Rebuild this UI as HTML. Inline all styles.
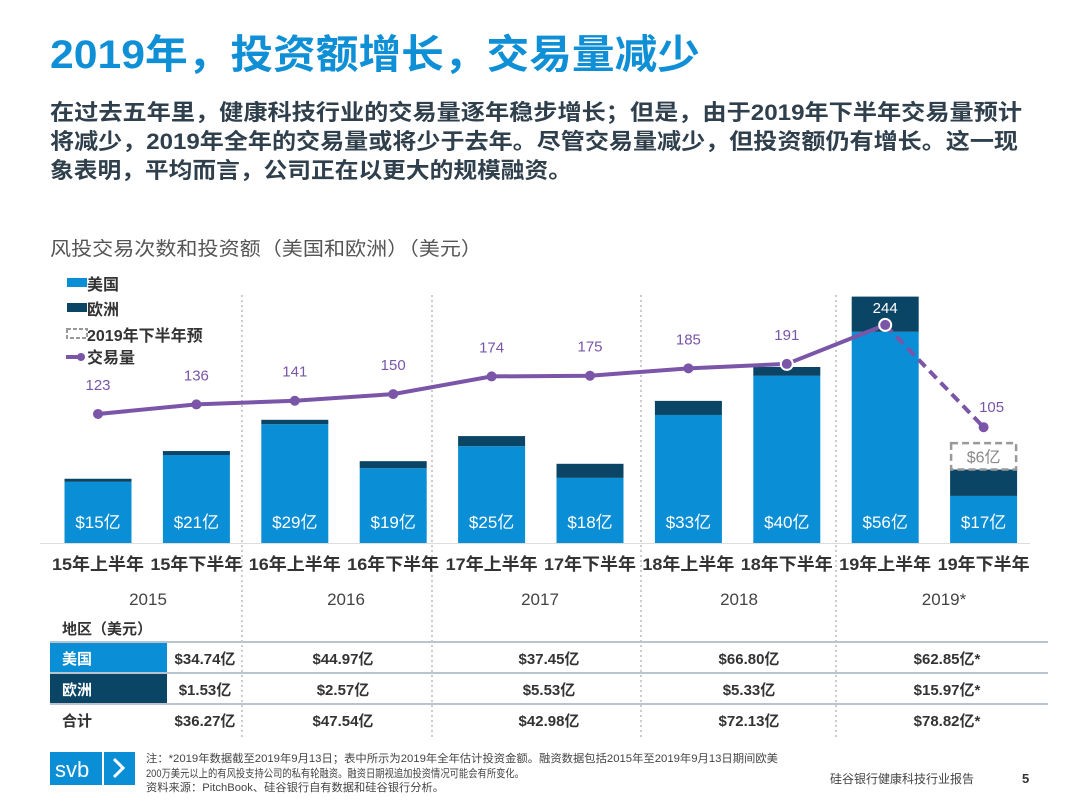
<!DOCTYPE html>
<html><head><meta charset="utf-8"><style>
body{margin:0;background:#fff;}
svg{display:block;font-family:"Liberation Sans","Noto Sans CJK SC",sans-serif;}
</style></head><body>
<svg id="c" width="1080" height="808" viewBox="0 0 1080 808">
<text x="50" y="68" font-size="40" font-weight="bold" fill="#0f8fd6" textLength="650" lengthAdjust="spacingAndGlyphs">2019年，投资额增长，交易量减少</text>
<g font-size="22" font-weight="bold" fill="#2f3f4c">
<text x="50" y="120" textLength="972" lengthAdjust="spacingAndGlyphs">在过去五年里，健康科技行业的交易量逐年稳步增长；但是，由于2019年下半年交易量预计</text>
<text x="50" y="149" textLength="968" lengthAdjust="spacingAndGlyphs">将减少，2019年全年的交易量或将少于去年。尽管交易量减少，但投资额仍有增长。这一现</text>
<text x="50" y="178" textLength="522" lengthAdjust="spacingAndGlyphs">象表明，平均而言，公司正在以更大的规模融资。</text>
</g>
<text x="50" y="255" font-size="19" fill="#555" textLength="432" lengthAdjust="spacingAndGlyphs">风投交易次数和投资额（美国和欧洲）（美元）</text>
<g id="seps"></g>
<g id="bars"></g>
<g id="line"></g>
<g id="labels"></g>
<g font-size="16" font-weight="bold" fill="#333">
<rect x="67" y="278" width="20" height="9" fill="#0a8fd6"/><text x="87" y="290">美国</text>
<rect x="67" y="303" width="20" height="9" fill="#0b4566"/><text x="87" y="315">欧洲</text>
<rect x="67" y="329" width="20" height="9" fill="none" stroke="#999" stroke-dasharray="4,2" stroke-width="2"/><text x="87" y="341">2019年下半年预</text>
<line x1="66" y1="357" x2="80" y2="357" stroke="#7a55a8" stroke-width="4"/><circle cx="81" cy="357" r="4" fill="#7a55a8"/><text x="87" y="363">交易量</text>
</g>
<g id="table"></g>
<g>
<rect x="50" y="752" width="52" height="33" fill="#0a8fd6"/>
<text x="55" y="777" font-size="22" fill="#fff">svb</text>
<rect x="104" y="752" width="31" height="33" fill="#0a8fd6"/>
<polyline points="114,759 123,768 114,777" fill="none" stroke="#fff" stroke-width="3"/>
<g font-size="11" fill="#444">
<text x="146" y="762" textLength="632" lengthAdjust="spacingAndGlyphs">注：*2019年数据截至2019年9月13日；表中所示为2019年全年估计投资金额。融资数据包括2015年至2019年9月13日期间欧美</text>
<text x="146" y="777" textLength="378" lengthAdjust="spacingAndGlyphs">200万美元以上的有风投支持公司的私有轮融资。融资日期视追加投资情况可能会有所变化。</text>
<text x="146" y="791" textLength="298" lengthAdjust="spacingAndGlyphs">资料来源：PitchBook、硅谷银行自有数据和硅谷银行分析。</text>
</g>
<text x="830" y="783" font-size="12" fill="#444">硅谷银行健康科技行业报告</text>
<text x="1022" y="783" font-size="13" font-weight="bold" fill="#333">5</text>
</g>
</svg>
<script>
const categories=["15年上半年","15年下半年","16年上半年","16年下半年","17年上半年","17年下半年","18年上半年","18年下半年","19年上半年","19年下半年"];
const usValues=[13.9,20,27,17,22,14.8,29.1,38,48,10.7];
const euValues=[0.7,0.9,1,1.6,2.3,3.2,3.2,2,8,6];
const totalLabels=["$15亿","$21亿","$29亿","$19亿","$25亿","$18亿","$33亿","$40亿","$56亿","$17亿"];
const forecastValue=6;
const dealCounts=[123,136,141,150,174,175,185,191,244,105];
const years=["2015","2016","2017","2018","2019*"];
const usTotals=["$34.74亿","$44.97亿","$37.45亿","$66.80亿","$62.85亿*"];
const euTotals=["$1.53亿","$2.57亿","$5.53亿","$5.33亿","$15.97亿*"];
const allTotals=["$36.27亿","$47.54亿","$42.98亿","$72.13亿","$78.82亿*"];

const NS="http://www.w3.org/2000/svg";
function mk(p,tag,a,txt){const e=document.createElementNS(NS,tag);for(const k in a)e.setAttribute(k,a[k]);if(txt!=null)e.textContent=txt;p.appendChild(e);return e;}
const base=543;
const xC=i=>98+i*98.4;
const yV=v=>base-v*4.4;
const yL=v=>504.5-v*0.736;
const bw=67;
const bars=document.getElementById('bars');
mk(bars,'line',{x1:40,y1:base+0.5,x2:1030,y2:base+0.5,stroke:'#ddd','stroke-width':1});
categories.forEach((c,i)=>{
  const x=xC(i)-bw/2;
  const u=mk(bars,'rect',{x:x,y:yV(usValues[i]),width:bw,height:base-yV(usValues[i]),fill:'#0a8fd6'});
  
  
  const e=mk(bars,'rect',{x:x,y:yV(usValues[i]+euValues[i]),width:bw,height:yV(usValues[i])-yV(usValues[i]+euValues[i]),fill:'#0b4566'});
  
  
  const t=mk(bars,'text',{x:xC(i),y:528,'font-size':17,fill:'#fff','text-anchor':'middle'},totalLabels[i]);
  
  
});
const li=categories.length-1, topV=usValues[li]+euValues[li];
const fb=mk(bars,'rect',{x:xC(li)-bw/2+1,y:yV(topV+forecastValue),width:bw-2,height:yV(topV)-yV(topV+forecastValue),fill:'none',stroke:'#999','stroke-width':2.5,'stroke-dasharray':'7,4'});


mk(bars,'text',{x:xC(li),y:(yV(topV)+yV(topV+forecastValue))/2+6,'font-size':16,fill:'#888','text-anchor':'middle'},'$'+forecastValue+'亿');

const seps=document.getElementById('seps');
[242,432,641,836].forEach(x=>mk(seps,'line',{x1:x,y1:295,x2:x,y2:740,stroke:'#999','stroke-width':1,'stroke-dasharray':'2,3'}));

const ln=document.getElementById('line');
let d='';for(let i=0;i<li;i++)d+=(i?'L':'M')+xC(i)+','+yL(dealCounts[i]);
mk(ln,'path',{d:d,fill:'none',stroke:'#7a55a8','stroke-width':4});
mk(ln,'line',{x1:xC(li-1),y1:yL(dealCounts[li-1]),x2:xC(li),y2:yL(dealCounts[li]),stroke:'#7a55a8','stroke-width':4,'stroke-dasharray':'10,6'});
dealCounts.forEach((v,i)=>{
  const c=mk(ln,'circle',{cx:xC(i),cy:yL(v),r:(i==7||i==8)?6:5,fill:'#7a55a8',stroke:(i==7||i==8)?'#fff':'none','stroke-width':2});
  
  
  const ly=i==8?yL(v)-12:(i==9?yL(v)-15:yL(v)-24);
  const lx=i==9?xC(i)+8:xC(i);
  mk(ln,'text',{x:lx,y:ly,'font-size':15,fill:i==8?'#fff':'#7a55a8','text-anchor':'middle'},v);
});

const lab=document.getElementById('labels');
categories.forEach((c,i)=>{const t=mk(lab,'text',{x:xC(i),y:570,'font-size':17,'font-weight':'bold',fill:'#333','text-anchor':'middle',textLength:92,lengthAdjust:'spacingAndGlyphs'},c);

});
const yx=[148,346,540,739,944];
years.forEach((y,i)=>mk(lab,'text',{x:yx[i],y:605,'font-size':17,fill:'#444','text-anchor':'middle'},y));

const tb=document.getElementById('table');
mk(tb,'text',{x:62,y:634,'font-size':15,'font-weight':'bold',fill:'#333'},'地区（美元）');
mk(tb,'rect',{x:50,y:643,width:117,height:30,fill:'#0a8fd6'});
mk(tb,'rect',{x:50,y:674,width:117,height:30,fill:'#0b4566'});
[642,673,704].forEach(y=>mk(tb,'line',{x1:50,y1:y,x2:1048,y2:y,stroke:'#b8c4d0','stroke-width':2}));
mk(tb,'text',{x:62,y:664,'font-size':15,'font-weight':'bold',fill:'#fff'},'美国');
mk(tb,'text',{x:62,y:695,'font-size':15,'font-weight':'bold',fill:'#fff'},'欧洲');
mk(tb,'text',{x:62,y:726,'font-size':15,'font-weight':'bold',fill:'#333'},'合计');
const cx=[205,343,549,749,947];
[[usTotals,664],[euTotals,695],[allTotals,726]].forEach(([arr,y])=>arr.forEach((v,i)=>mk(tb,'text',{x:cx[i],y:y,'font-size':15,'font-weight':'bold',fill:'#333','text-anchor':'middle'},v)));
</script>
</body></html>
